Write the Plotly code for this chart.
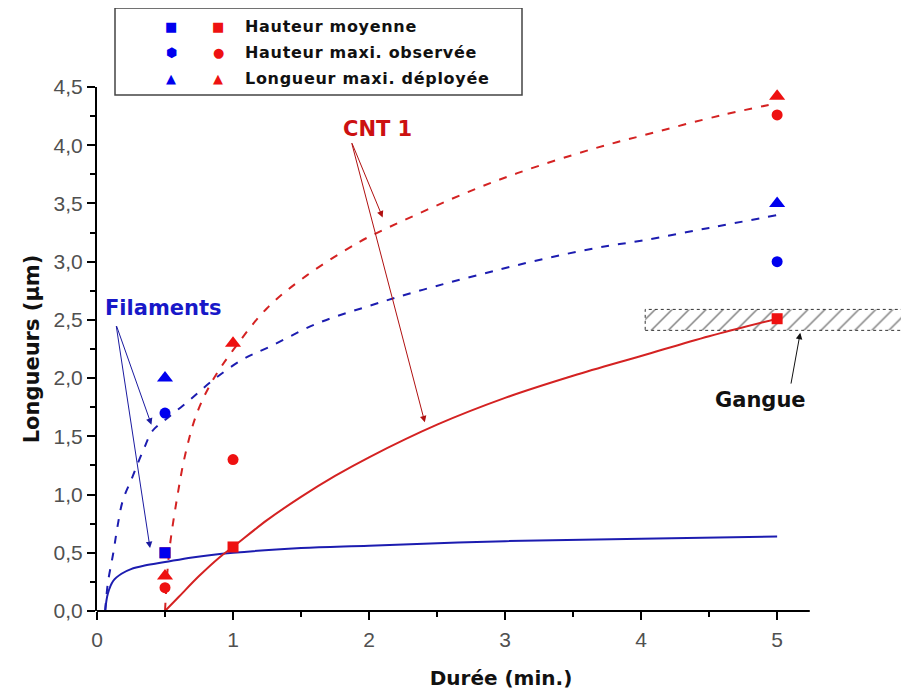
import plotly.graph_objects as go

# ---------------- data ----------------
# Filaments (blue) - measured points
fil_moy_x = [0.5]
fil_moy_y = [0.5]
fil_obs_x = [0.5, 5]
fil_obs_y = [1.7, 3.0]
fil_dep_x = [0.5, 5]
fil_dep_y = [2.0, 3.5]

# CNT 1 (red) - measured points
cnt_moy_x = [0.5, 1, 5]
cnt_moy_y = [0.5, 0.55, 2.51]
cnt_obs_x = [0.5, 1, 5]
cnt_obs_y = [0.2, 1.3, 4.26]
cnt_dep_x = [0.5, 1, 5]
cnt_dep_y = [0.3, 2.3, 4.42]

# fitted curves
fil_fit_moy_x = [0.06, 0.08, 0.12, 0.18, 0.25, 0.35, 0.5, 0.7, 1.0, 1.5, 2, 3, 4, 5]
fil_fit_moy_y = [0.0, 0.15, 0.26, 0.32, 0.36, 0.39, 0.42, 0.46, 0.50, 0.54, 0.56, 0.60, 0.62, 0.64]

fil_fit_dep_x = [0.06, 0.08, 0.12, 0.15, 0.19, 0.26, 0.34, 0.41, 0.5, 0.68, 0.85, 1.07, 1.27,
                 1.62, 2.0, 2.4, 3.16, 3.68, 4.0, 4.5, 5]
fil_fit_dep_y = [0.0, 0.24, 0.50, 0.72, 0.95, 1.15, 1.38, 1.55, 1.64, 1.81, 1.98, 2.16, 2.27,
                 2.47, 2.62, 2.76, 2.99, 3.12, 3.18, 3.29, 3.40]

cnt_fit_moy_x = [0.5, 0.6, 0.75, 0.9, 1.0, 1.25, 1.5, 1.75, 2.0, 2.5, 3.0, 3.5, 4.0, 4.5, 5.0]
cnt_fit_moy_y = [0.0, 0.12, 0.30, 0.46, 0.55, 0.78, 0.98, 1.16, 1.32, 1.60, 1.83, 2.02, 2.19, 2.36, 2.51]

cnt_fit_dep_x = [0.5, 0.53, 0.59, 0.65, 0.735, 0.85, 1.0, 1.25, 1.54, 1.93, 2.10, 2.69, 3.09,
                 3.65, 4.0, 4.6, 5.0]
cnt_fit_dep_y = [0.0, 0.5, 0.98, 1.35, 1.70, 1.98, 2.24, 2.60, 2.88, 3.17, 3.27, 3.58, 3.76,
                 3.97, 4.08, 4.26, 4.36]

# "Gangue" band
gangue_x = [4.03, 5.94]
gangue_y = [2.41, 2.59]

x_ticks = [0, 1, 2, 3, 4, 5]
x_minor = [0.5, 1.5, 2.5, 3.5, 4.5]
y_ticks = [0, 0.5, 1, 1.5, 2, 2.5, 3, 3.5, 4, 4.5]
y_minor = [0.25, 0.75, 1.25, 1.75, 2.25, 2.75, 3.25, 3.75, 4.25]

# ---------------- styling ----------------
BLUE = '#0000ee'
BLUE_LINE = '#1c1cb0'
RED = '#ee1111'
RED_LINE = '#d42222'
TITLE_FONT = 'DejaVu Sans'

X_MAX = 5.94
X_AXIS_END = 5.24
OFF = 8                      # page body margin
# plot area in window pixels
PL, PR, PT, PB = 97, 905, 87, 611
W, H = 909 - OFF, 695 - OFF
PW, PH = PR - PL, PB - PT


def paper(xp, yp):
    return (xp - PL) / PW, (PB - yp) / PH


fig = go.Figure()

# gangue hatched band
fig.add_trace(go.Scatter(
    x=[gangue_x[0], gangue_x[1], gangue_x[1], gangue_x[0], gangue_x[0]],
    y=[gangue_y[0], gangue_y[0], gangue_y[1], gangue_y[1], gangue_y[0]],
    mode='lines', fill='toself', fillcolor='white',
    fillpattern=dict(shape='/', fgcolor='#000', bgcolor='white', size=12, solidity=0.12),
    line=dict(color='#333', width=1, dash='dot'), hoverinfo='skip', showlegend=False))

# fitted curves
dash = '8px,9px'
fig.add_trace(go.Scatter(x=fil_fit_moy_x, y=fil_fit_moy_y, mode='lines', line_shape='spline',
                         line=dict(color=BLUE_LINE, width=2), showlegend=False))
fig.add_trace(go.Scatter(x=fil_fit_dep_x, y=fil_fit_dep_y, mode='lines', line_shape='spline',
                         line=dict(color=BLUE_LINE, width=2, dash=dash), showlegend=False))
fig.add_trace(go.Scatter(x=cnt_fit_moy_x, y=cnt_fit_moy_y, mode='lines', line_shape='spline',
                         line=dict(color=RED_LINE, width=2), showlegend=False))
fig.add_trace(go.Scatter(x=cnt_fit_dep_x, y=cnt_fit_dep_y, mode='lines', line_shape='spline',
                         line=dict(color=RED_LINE, width=2, dash=dash), showlegend=False))

# measured points
def pts(x, y, color, symbol, size):
    fig.add_trace(go.Scatter(x=x, y=y, mode='markers', cliponaxis=False, showlegend=False,
                             marker=dict(color=color, symbol=symbol, size=size)))

pts(cnt_moy_x, cnt_moy_y, RED, 'square', 11)
pts(cnt_obs_x, cnt_obs_y, RED, 'circle', 11)
pts(cnt_dep_x, cnt_dep_y, RED, 'triangle-up', 14)
pts(fil_moy_x, fil_moy_y, BLUE, 'square', 11)
pts(fil_obs_x, fil_obs_y, BLUE, 'circle', 11)
pts(fil_dep_x, fil_dep_y, BLUE, 'triangle-up', 14)

annotations = []

# arrows
def arrow(tail, head, color):
    annotations.append(dict(x=head[0], y=head[1], ax=tail[0], ay=tail[1], xref='x', yref='y',
                            axref='x', ayref='y', text='', showarrow=True, arrowhead=2,
                            arrowsize=1.3, arrowwidth=1, arrowcolor=color))

arrow((1.87, 4.03), (2.10, 3.38), '#b01010')
arrow((1.87, 4.03), (2.41, 1.62), '#b01010')
arrow((0.14, 2.46), (0.40, 1.60), '#1a1aa0')
arrow((0.14, 2.46), (0.39, 0.54), '#1a1aa0')
arrow((5.10, 1.94), (5.17, 2.39), '#111')

# labels
def label(text, xp, yp, color, size=21):
    px_, py_ = paper(xp, yp)
    annotations.append(dict(x=px_, y=py_, xref='paper', yref='paper', text='<b>%s</b>' % text,
                            showarrow=False, font=dict(family=TITLE_FONT, size=size, color=color),
                            xanchor='center', yanchor='middle'))

label('CNT 1', 377, 129, '#cc1111')
label('Filaments', 163, 308, '#1818c8')
label('Gangue', 760, 400, '#111')

# legend drawn by hand (two symbol columns)
leg_rows = [('■', '■', 'Hauteur moyenne', 26),
            ('⬢', '●', 'Hauteur maxi. observée', 53),
            ('▲', '▲', 'Longueur maxi. déployée', 79)]
for b_sym, r_sym, txt, yp in leg_rows:
    for sym, xp, col in ((b_sym, 171, BLUE), (r_sym, 218, RED)):
        px_, py_ = paper(xp, yp)
        annotations.append(dict(x=px_, y=py_, xref='paper', yref='paper', text=sym, showarrow=False,
                                font=dict(family='DejaVu Sans', size=13, color=col),
                                xanchor='center', yanchor='middle'))
    px_, py_ = paper(243, yp)
    annotations.append(dict(x=px_, y=py_, xref='paper', yref='paper',
                            text='<span style="letter-spacing:0.7px"><b>%s</b></span>' % txt,
                            showarrow=False, font=dict(family=TITLE_FONT, size=16, color='#111'),
                            xanchor='left', yanchor='middle'))

lx0, ly0 = paper(115, 95)
lx1, ly1 = paper(522, 8)
shapes = [
    dict(type='rect', xref='paper', yref='paper', x0=lx0, y0=ly0, x1=lx1, y1=ly1,
         line=dict(color='#444', width=1.5), fillcolor='rgba(0,0,0,0)'),
    # x axis line (stops short of the right edge)
    dict(type='line', xref='paper', yref='paper', x0=0, x1=X_AXIS_END / X_MAX, y0=0, y1=0,
         line=dict(color='black', width=2)),
]

tick_font = dict(family='Liberation Sans, Arial', size=21, color='#505050')
fig.update_layout(
    width=W, height=H,
    margin=dict(l=PL - OFF, r=W - (PR - OFF), t=PT - OFF, b=H - (PB - OFF), autoexpand=False),
    paper_bgcolor='white', plot_bgcolor='white',
    separators=', ',
    showlegend=False,
    annotations=annotations,
    shapes=shapes,
    xaxis=dict(range=[0, X_MAX], showgrid=False, zeroline=False, showline=False,
               tickmode='array', tickvals=x_ticks, ticks='outside', ticklen=8, tickwidth=2,
               tickcolor='black', tickfont=tick_font, automargin=False, ticklabelstandoff=2,
               minor=dict(tickmode='array', tickvals=x_minor, ticks='outside', ticklen=5,
                          tickwidth=2, tickcolor='black'),
               title=dict(text='<b>Durée (min.)</b>', standoff=20,
                          font=dict(family=TITLE_FONT, size=20, color='#111'))),
    yaxis=dict(range=[0, 4.5], showgrid=False, zeroline=False, showline=True, linecolor='black',
               linewidth=2, tickmode='array', tickvals=y_ticks, tickformat='.1f', ticks='outside',
               ticklen=8, tickwidth=2, tickcolor='black', tickfont=tick_font, automargin=False,
               minor=dict(tickmode='array', tickvals=y_minor, ticks='outside', ticklen=5,
                          tickwidth=2, tickcolor='black'),
               title=dict(text='<b>Longueurs (µm)</b>', standoff=8,
                          font=dict(family=TITLE_FONT, size=21, color='#111'))),
)

fig.write_html("out.html")
